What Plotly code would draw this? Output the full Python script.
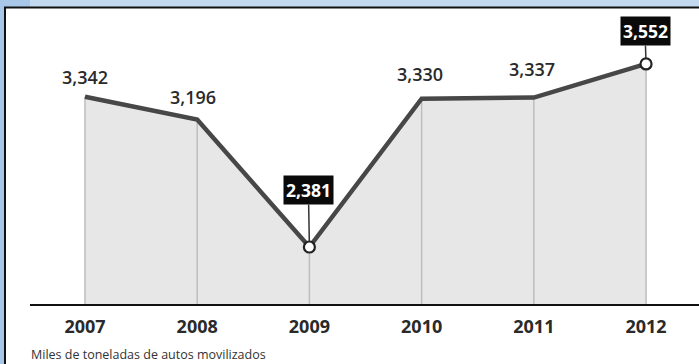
import plotly.graph_objects as go

# Data
years = [2007, 2008, 2009, 2010, 2011, 2012]
values = [3342, 3196, 2381, 3330, 3337, 3552]
value_labels = ["3,342", "3,196", "2,381", "3,330", "3,337", "3,552"]
tick_labels = ["2007", "2008", "2009", "2010", "2011", "2012"]
highlighted = [2009, 2012]
footer = "Miles de toneladas de autos movilizados"

W, H = 699, 364
ML, MR, MT, MB = 30, 0, 8, 60
X_RANGE = [2006.51, 2012.472]
Y_RANGE = [2016.5, 3910]

FONT = "Open Sans"
LINE_COLOR = "#474747"
TEXT_COLOR = "#2a2a2a"

plot_w = W - ML - MR
plot_h = H - MT - MB


def px_x(p):
    """Pixel column -> paper x."""
    return (p - ML) / plot_w


def px_y(q):
    """Pixel row -> paper y."""
    return (H - MB - q) / plot_h


fig = go.Figure()

# Shaded area under the line
fig.add_trace(go.Scatter(
    x=years, y=values, mode="lines", fill="tozeroy",
    fillcolor="#e7e7e7", line=dict(color="rgba(0,0,0,0)", width=0),
    hoverinfo="skip", showlegend=False,
))

# Vertical drop lines from each point to the baseline
drop_x, drop_y = [], []
for x, v in zip(years, values):
    drop_x += [x, x, None]
    drop_y += [Y_RANGE[0], v, None]
fig.add_trace(go.Scatter(
    x=drop_x, y=drop_y, mode="lines",
    line=dict(color="#bdbdbd", width=1.5),
    hoverinfo="skip", showlegend=False,
))

# Main line
fig.add_trace(go.Scatter(
    x=years, y=values, mode="lines",
    line=dict(color=LINE_COLOR, width=4.5),
    hoverinfo="skip", showlegend=False,
))

# Highlighted points
hx = [x for x in years if x in highlighted]
hy = [v for x, v in zip(years, values) if x in highlighted]
fig.add_trace(go.Scatter(
    x=hx, y=hy, mode="markers",
    marker=dict(size=11, color="white", line=dict(color="#222", width=2.2)),
    hoverinfo="skip", showlegend=False,
))

# Value labels
plain_offsets = {2007: (0, 20), 2008: (-4, 23), 2010: (-2, 25), 2011: (-2, 29)}
box_offsets = {2009: -57, 2012: -33}
for x, v, lab in zip(years, values, value_labels):
    if x in box_offsets:
        fig.add_annotation(
            x=x, y=v, text=lab, showarrow=True,
            arrowhead=0, arrowwidth=1.5, arrowcolor="#333",
            ax=-1, ay=box_offsets[x], standoff=6,
            bgcolor="#0a0a0a", borderpad=2,
            font=dict(family=FONT, size=17.5, color="white", weight=700),
        )
    else:
        dx, dy = plain_offsets[x]
        fig.add_annotation(
            x=x, y=v, text=lab, showarrow=False,
            xshift=dx, yshift=dy,
            font=dict(family=FONT, size=18, color=TEXT_COLOR, weight=600),
        )

# Footer note
fig.add_annotation(
    xref="paper", yref="paper", x=px_x(29), y=px_y(354),
    xanchor="left", yanchor="middle", showarrow=False,
    text=footer, font=dict(family=FONT, size=12.5, color="#333"),
)

# Frame: blue strips and black border lines
shapes = [
    dict(type="rect", xref="paper", yref="paper", layer="above",
         x0=px_x(0), x1=px_x(W), y0=px_y(0), y1=px_y(7),
         fillcolor="#c3d9ef", line=dict(width=0)),
    dict(type="rect", xref="paper", yref="paper", layer="above",
         x0=px_x(0), x1=px_x(4), y0=px_y(0), y1=px_y(H),
         fillcolor="#a7c6e8", line=dict(width=0)),
    dict(type="rect", xref="paper", yref="paper", layer="above",
         x0=px_x(0), x1=px_x(30), y0=px_y(0), y1=px_y(7),
         fillcolor="#a7c6e8", line=dict(width=0)),
    dict(type="line", xref="paper", yref="paper", layer="above",
         x0=px_x(4), x1=px_x(W), y0=px_y(7.5), y1=px_y(7.5),
         line=dict(color="#111", width=2)),
    dict(type="line", xref="paper", yref="paper", layer="above",
         x0=px_x(5), x1=px_x(5), y0=px_y(7), y1=px_y(H),
         line=dict(color="#111", width=2)),
]

fig.update_layout(
    width=W, height=H,
    margin=dict(l=ML, r=MR, t=MT, b=MB),
    paper_bgcolor="white", plot_bgcolor="white",
    shapes=shapes,
    xaxis=dict(
        range=X_RANGE, tickvals=years, ticktext=tick_labels,
        showgrid=False, zeroline=False,
        showline=True, linecolor="#111", linewidth=2,
        ticks="outside", ticklen=5, tickcolor="rgba(0,0,0,0)",
        tickfont=dict(family=FONT, size=18, color=TEXT_COLOR, weight=700),
    ),
    yaxis=dict(range=Y_RANGE, visible=False),
)

fig.write_html("out.html")
